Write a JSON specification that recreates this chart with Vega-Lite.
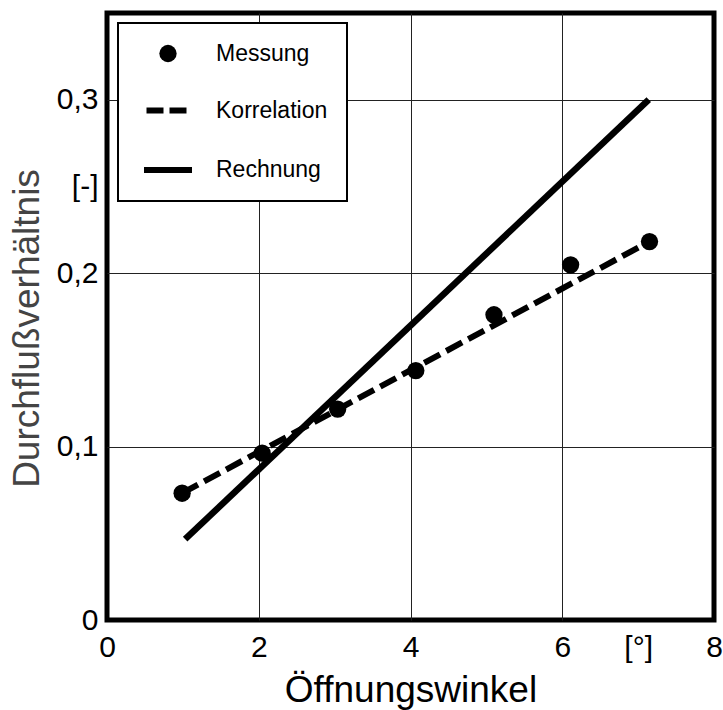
{
  "$schema": "https://vega.github.io/schema/vega-lite/v6.json",
  "autosize": {"type": "none"},
  "padding": {"left": 107, "top": 13, "right": 9, "bottom": 90},
  "width": 607,
  "height": 607,
  "background": "white",
  "config": {
    "view": {"stroke": "black", "strokeWidth": 5},
    "font": "Liberation Sans",
    "legend": {"strokeWidth": 2}
  },
  "data": {
    "values": [
      {"series": "Messung", "x": 0.99, "y": 0.0731},
      {"series": "Messung", "x": 2.045, "y": 0.0962},
      {"series": "Messung", "x": 3.04, "y": 0.1216},
      {"series": "Messung", "x": 4.07, "y": 0.1438},
      {"series": "Messung", "x": 5.10, "y": 0.176},
      {"series": "Messung", "x": 6.11, "y": 0.2048},
      {"series": "Messung", "x": 7.15, "y": 0.2182},
      {"series": "Korrelation", "x": 0.99, "y": 0.0731},
      {"series": "Korrelation", "x": 7.15, "y": 0.2182},
      {"series": "Rechnung", "x": 1.03, "y": 0.0466},
      {"series": "Rechnung", "x": 7.14, "y": 0.300}
    ]
  },
  "encoding": {
    "x": {
      "field": "x", "type": "quantitative",
      "scale": {"domain": [0, 8], "nice": false, "zero": false},
      "axis": {
        "values": [0, 2, 4, 6, 7, 8],
        "labelExpr": "datum.value == 7 ? '[°]' : datum.label",
        "labelFlush": false,
        "labelOverlap": false,
        "labelFontSize": 30,
        "labelColor": "black",
        "labelPadding": 12,
        "ticks": false,
        "domain": false,
        "grid": true,
        "gridColor": "#222",
        "gridWidth": 1,
        "gridOpacity": {"condition": {"test": "datum.value == 7 || datum.value == 0 || datum.value == 8", "value": 0}, "value": 1},
        "title": "Öffnungswinkel",
        "titleFontSize": 37,
        "titleFontWeight": "normal",
        "titleColor": "black",
        "titlePadding": 10
      }
    },
    "y": {
      "field": "y", "type": "quantitative",
      "scale": {"domain": [0, 0.35], "nice": false, "zero": false},
      "axis": {
        "values": [0, 0.1, 0.2, 0.25, 0.3],
        "labelExpr": "datum.value == 0.25 ? '[-]' : (datum.value == 0 ? '0' : replace(format(datum.value, '.1f'), '.', ','))",
        "labelOverlap": false,
        "labelFontSize": 30,
        "labelColor": "black",
        "labelPadding": 9,
        "ticks": false,
        "domain": false,
        "grid": true,
        "gridColor": "#222",
        "gridWidth": 1,
        "gridOpacity": {"condition": {"test": "datum.value == 0.25 || datum.value == 0", "value": 0}, "value": 1},
        "title": "Durchflußverhältnis",
        "titleFontSize": 37,
        "titleFontWeight": "normal",
        "titleColor": "#444",
        "titlePadding": 10,
        "titleY": 315
      }
    }
  },
  "layer": [
    {
      "transform": [{"filter": "datum.series == 'Korrelation'"}],
      "mark": {"type": "line", "strokeWidth": 6, "color": "black", "strokeCap": "butt", "strokeDash": [18, 7]},
      "encoding": {}
    },
    {
      "transform": [{"filter": "datum.series == 'Rechnung'"}],
      "mark": {"type": "line", "strokeWidth": 6.5, "color": "black", "strokeCap": "butt"},
      "encoding": {}
    },
    {
      "transform": [{"filter": "datum.series == 'Messung'"}],
      "mark": {"type": "point", "filled": true, "color": "black", "fill": "black", "stroke": "black", "opacity": 1},
      "encoding": {
        "shape": {
          "field": "series", "type": "nominal",
          "scale": {"domain": ["Messung", "Korrelation", "Rechnung"], "range": ["circle", "stroke", "stroke"]},
          "legend": {
            "title": null,
            "orient": "none",
            "legendX": 11,
            "legendY": 10,
            "padding": 19,
            "symbolOffset": 4,
            "fillColor": "white",
            "strokeColor": "black",
            "labelFontSize": 23,
            "labelColor": "black",
            "labelOffset": 21,
            "labelLimit": 300,
            "rowPadding": 20
          }
        },
        "size": {
          "field": "series", "type": "nominal",
          "scale": {"type": "ordinal", "domain": ["Messung", "Korrelation", "Rechnung"], "range": [300, 1849, 2304]},
          "legend": {"title": null}
        },
        "strokeDash": {
          "field": "series", "type": "nominal",
          "scale": {"domain": ["Messung", "Korrelation", "Rechnung"], "range": [[1, 0], [17, 6], [1, 0]]},
          "legend": {"title": null}
        },
        "strokeWidth": {
          "field": "series", "type": "nominal",
          "scale": {"type": "ordinal", "domain": ["Messung", "Korrelation", "Rechnung"], "range": [0, 6, 6]},
          "legend": {"title": null}
        }
      }
    }
  ]
}
